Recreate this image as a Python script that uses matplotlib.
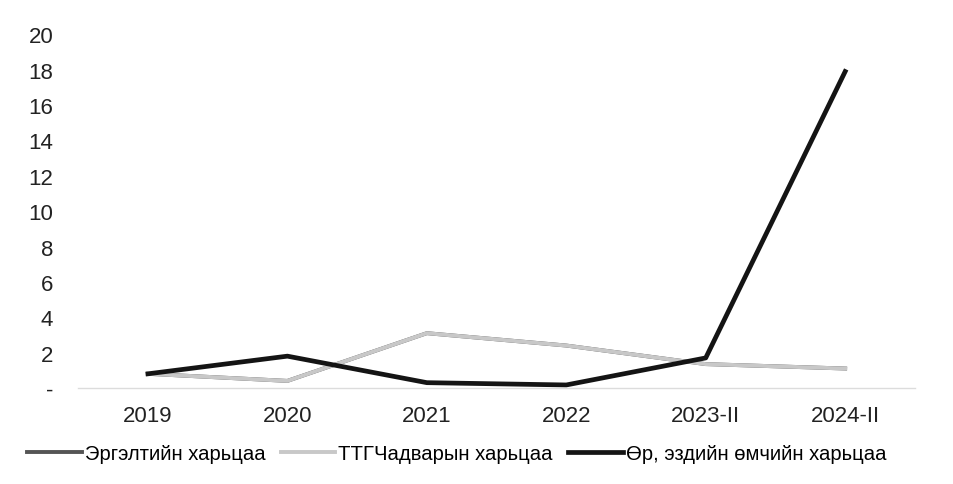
import matplotlib
matplotlib.use("Agg")
import matplotlib.pyplot as plt
import numpy as np

plt.rcParams['font.family'] = ['Liberation Sans', 'DejaVu Sans']

periods = ['2019', '2020', '2021', '2022', '2023-II', '2024-II']
# Эргэлтийн харьцаа is not visible in the picture; it sits under the light line
current_ratio = [0.8, 0.4, 3.1, 2.4, 1.35, 1.1]
quick_ratio = [0.8, 0.4, 3.1, 2.4, 1.35, 1.1]
debt_equity = [0.8, 1.8, 0.3, 0.17, 1.7, 17.9]

series_names = ['Эргэлтийн харьцаа', 'ТТГЧадварын харьцаа', 'Өр, эздийн өмчийн харьцаа']
y_ticks = [0, 2, 4, 6, 8, 10, 12, 14, 16, 18, 20]

fig = plt.figure(figsize=(9.54, 4.85), dpi=100)
ax = fig.add_axes([0.082, 0.198, 0.877, 0.729])

x = np.arange(len(periods))
ax.plot(x, current_ratio, color='#555555', lw=2.8, label=series_names[0])
ax.plot(x, quick_ratio, color='#c8c8c8', lw=2.8, label=series_names[1])
ax.plot(x, debt_equity, color='#141414', lw=3.4, label=series_names[2])

ax.set_xlim(-0.5, len(periods) - 0.5)
ax.set_ylim(0, 20)
ax.set_xticks(x)
ax.set_xticklabels(periods)
ax.set_yticks(y_ticks)
ax.set_yticklabels(['-' if v == 0 else str(v) for v in y_ticks])
ax.tick_params(axis='both', length=0, labelsize=16, colors='#222222')
ax.tick_params(axis='x', pad=12)
ax.tick_params(axis='y', pad=18)

for side in ['top', 'right', 'left']:
    ax.spines[side].set_visible(False)
ax.spines['bottom'].set_color('#dcdcdc')
ax.spines['bottom'].set_linewidth(1)

leg = fig.legend(loc='center left', bbox_to_anchor=(27 / 954, 1 - 455 / 485), ncol=3,
                 frameon=False, borderpad=0, borderaxespad=0, fontsize=14.6,
                 handlelength=2.7, handletextpad=0.15, columnspacing=0.75)

fig.savefig('out.png', dpi=100)
